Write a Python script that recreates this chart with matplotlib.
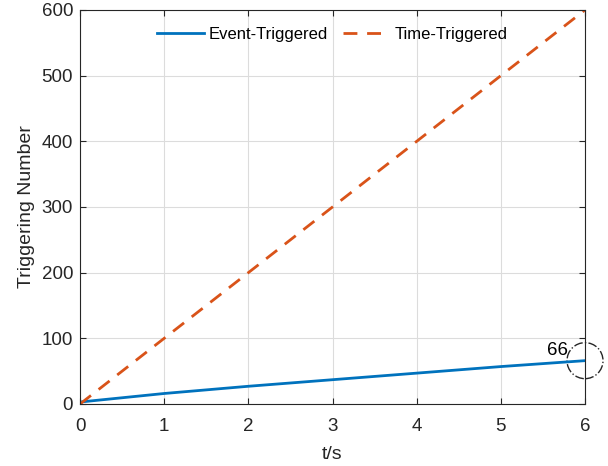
import matplotlib
matplotlib.use("Agg")
import matplotlib.pyplot as plt
from matplotlib.patches import Ellipse

plt.rcParams['font.family'] = ['Liberation Sans', 'DejaVu Sans']

t_event = [0, 0.5, 1, 2, 3, 4, 5, 6]
n_event = [3, 9.5, 16, 27, 37, 47, 57, 66]
t_time = [0, 1, 2, 3, 4, 5, 6]
n_time = [0, 100, 200, 300, 400, 500, 600]
xticks = [0, 1, 2, 3, 4, 5, 6]
yticks = [0, 100, 200, 300, 400, 500, 600]
final_label = "66"

fig = plt.figure(figsize=(6.08, 4.66), dpi=100)
ax = fig.add_axes([80/608, 1-404/466, 505/608, 394/466])
ax.plot(t_event, n_event, color='#0072BD', lw=2, label='Event-Triggered')
ax.plot(t_time, n_time, color='#D95319', lw=2, ls=(0, (5, 3.5)), label='Time-Triggered')
ax.set_xlim(0, 6)
ax.set_ylim(0, 600)
ax.set_xticks(xticks)
ax.set_yticks(yticks)
ax.grid(True, color='#dcdcdc', lw=0.8)
ax.set_axisbelow(True)
for s in ax.spines.values():
    s.set_color('#262626')
    s.set_linewidth(0.8)
ax.tick_params(direction='in', top=True, right=True, labelsize=13.5, colors='#262626', length=4)
ax.tick_params(axis='x', pad=10)
ax.tick_params(axis='y', pad=5)
ax.set_xlabel('t/s', fontsize=14, color='#262626', labelpad=8)
ax.set_ylabel('Triggering Number', fontsize=14, color='#262626', labelpad=5)
leg = ax.legend(loc='upper center', ncol=2, frameon=False, fontsize=12,
                handlelength=2.8, columnspacing=0.9, handletextpad=0.3,
                bbox_to_anchor=(0.5, 0.995))
# circle marker in data coords (pixel-sized ellipse)
rx = 18 / (505/6)
ry = 18 / (394/600)
circ = Ellipse((t_event[-1], n_event[-1]), 2*rx, 2*ry, fill=False, ls='-.', lw=1,
               color='#262626', clip_on=False)
ax.add_patch(circ)
ax.text(t_event[-1] - rx*0.95, n_event[-1] + 3, final_label, ha='right', va='bottom',
        fontsize=13.5, color='black')
fig.savefig('out.png', dpi=100)
